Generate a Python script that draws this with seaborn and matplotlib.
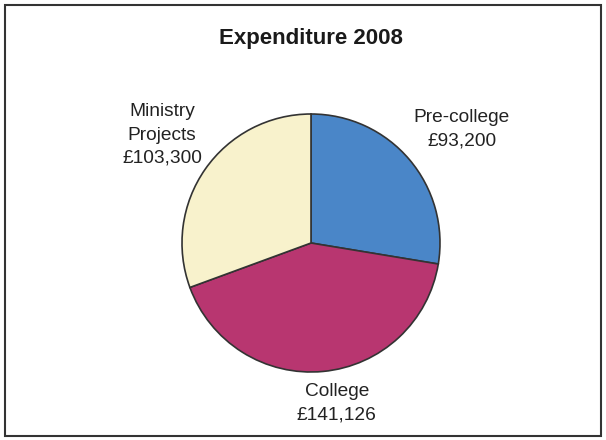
import matplotlib
matplotlib.use("Agg")
import matplotlib.pyplot as plt
from matplotlib.patches import Rectangle
import seaborn as sns

# Data
categories = ["Pre-college", "College", "Ministry\nProjects"]
amounts = [93200, 141126, 103300]
colors = ["#4a86c8", "#b83670", "#f8f2cc"]
title = "Expenditure 2008"

sns.set_theme(style="white")
plt.rcParams['font.family'] = ['Liberation Sans', 'DejaVu Sans']

fig = plt.figure(figsize=(6.06, 4.40), dpi=100)
fig.patch.set_facecolor("white")

# square axes centred on the pie
ax = fig.add_axes([117.5 / 606, 3.5 / 440, 387 / 606, 387 / 440])

labels = [f"{c}\n£{v:,}" for c, v in zip(categories, amounts)]
wedges, texts = ax.pie(amounts, labels=labels, colors=sns.color_palette(colors),
                       startangle=90, counterclock=False, radius=1,
                       labeldistance=1.4,
                       wedgeprops=dict(edgecolor="#333333", linewidth=1.2),
                       textprops=dict(fontsize=13.8, color="#222222",
                                      ha="center", va="center",
                                      multialignment="center", linespacing=1.47))

# pie() resets the limits, so set them afterwards
ax.set_xlim(-1.5, 1.5)
ax.set_ylim(-1.5, 1.5)
ax.set_aspect("equal")
ax.axis("off")

# fine placement of the labels
label_pos = [(1.17, 0.88), (0.2, -1.24), (-1.155, 0.837)]
for t, p in zip(texts, label_pos):
    t.set_position(p)

fig.text(311 / 606, 1 - 38 / 440, title, ha="center", va="center",
         fontsize=16, fontweight="bold", color="#1a1a1a")

# frame around the figure
fig.patches.append(Rectangle((5 / 606, 4 / 440), 596 / 606, 431 / 440,
                             transform=fig.transFigure, fill=False,
                             edgecolor="#333333", linewidth=1.5))

plt.savefig("out.png", dpi=100)
